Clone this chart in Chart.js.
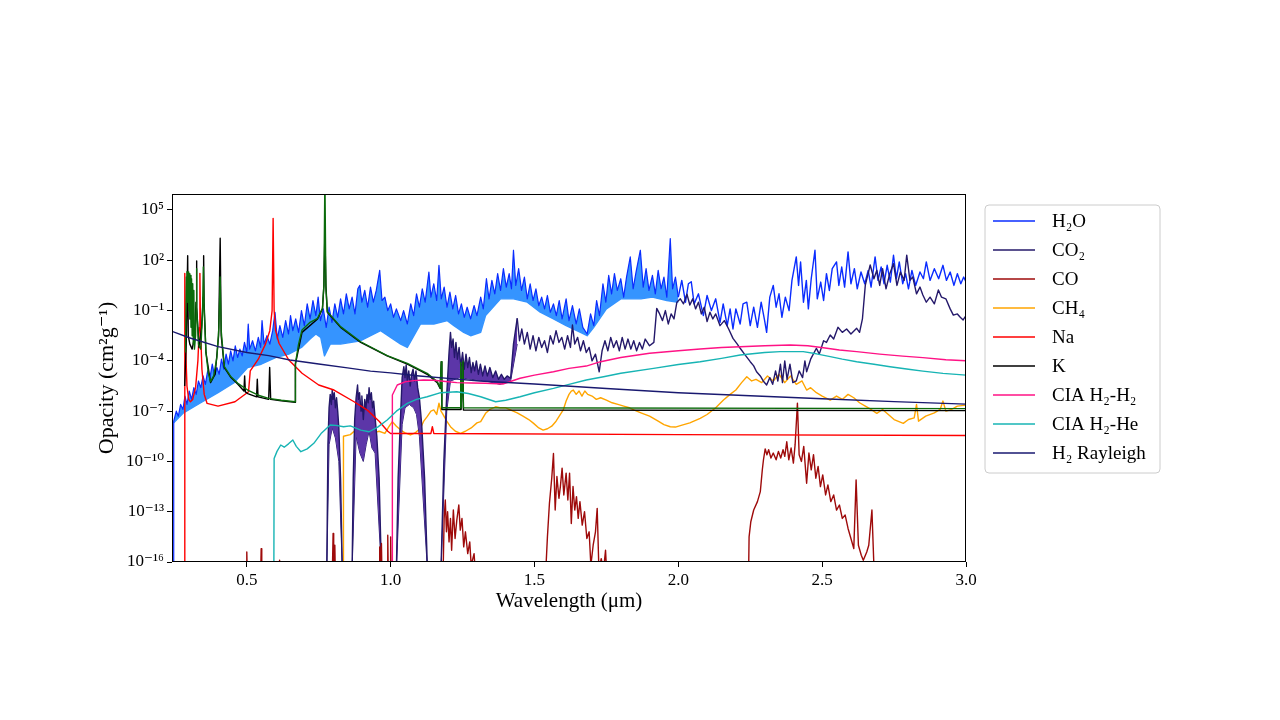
<!DOCTYPE html>
<html>
<head>
<meta charset="utf-8">
<title>Opacity vs wavelength</title>
<script src="https://cdn.jsdelivr.net/npm/chart.js@4.4.1/dist/chart.umd.min.js"></script>
<style>
  html, body { margin: 0; padding: 0; background: #fff; }
  canvas { display: block; }
</style>
</head>
<body>
<canvas id="mycanvas" width="1280" height="720"></canvas>
<script>
// every point is [wavelength in micron, log10 of opacity in cm2/g]
// (values below 1e-16 are just off the bottom of the axis)

const xTicks = [0.5, 1.0, 1.5, 2.0, 2.5, 3.0];
const yTickExps = [5, 2, -1, -4, -7, -10, -13, -16];

// H2O - dense part (blue spikes) and the lower edge of the band
const h2oDense = [[0.245,-16],[0.246,-7.6],[0.255,-7.0],[0.262,-7.3],[0.270,-6.6],[0.278,-6.9],[0.285,-6.1],[0.292,-6.6],
  [0.300,-5.8],[0.308,-6.3],[0.316,-5.6],[0.324,-6.0],[0.332,-5.2],[0.340,-5.6],[0.348,-4.9],[0.356,-5.4],[0.364,-4.6],
  [0.372,-5.0],[0.380,-4.2],[0.388,-4.9],[0.396,-4.4],[0.404,-4.8],[0.412,-3.9],[0.420,-4.5],[0.428,-3.6],[0.436,-4.2],
  [0.444,-3.4],[0.452,-4.0],[0.460,-3.1],[0.468,-3.8],[0.476,-3.3],[0.484,-3.7],[0.492,-2.9],[0.500,-3.5],[0.505,-1.8],
  [0.510,-3.3],[0.520,-2.8],[0.530,-3.4],[0.540,-2.6],[0.548,-3.2],[0.553,-1.6],[0.560,-3.0],[0.570,-2.5],[0.580,-3.0],
  [0.590,-2.2],[0.598,-1.1],[0.606,-2.7],[0.615,-1.9],[0.625,-2.6],[0.635,-1.6],[0.645,-2.4],[0.652,-1.3],[0.660,-2.2],
  [0.670,-1.5],[0.680,-2.3],[0.690,-1.0],[0.700,-1.9],[0.710,-0.6],[0.720,-1.5],[0.730,-0.4],[0.740,-1.3],[0.748,-0.2],
  [0.756,-1.6],[0.766,-0.9],[0.776,-2.0],[0.786,-0.8],[0.796,-1.7],[0.806,-0.6],[0.816,-1.4],[0.826,-0.3],[0.836,-1.2],
  [0.846,0.0],[0.856,-0.9],[0.866,-0.2],[0.876,-1.2],[0.886,0.3],[0.893,0.5],[0.900,-0.5],[0.910,0.2],[0.920,-0.8],
  [0.930,0.4],[0.940,-0.5],[0.950,0.2],[0.962,1.4],[0.970,-0.4],[0.980,-0.2],[0.990,-1.0],[1.000,-0.6],[1.010,-1.4],
  [1.020,-0.9],[1.035,-1.6],[1.045,-1.0],[1.058,-1.8],[1.070,-0.6],[1.080,-1.3],[1.090,0.0],[1.100,-0.8],[1.110,0.3],
  [1.120,-0.5],[1.133,1.3],[1.140,-0.2],[1.150,0.6],[1.160,-0.4],[1.168,1.7],[1.176,-0.3],[1.186,0.4],[1.196,-0.8],
  [1.206,0.1],[1.216,-0.9],[1.226,-0.1],[1.236,-1.2],[1.246,-0.6],[1.256,-1.4],[1.266,-0.8],[1.278,-1.5],[1.290,-0.7],
  [1.300,-1.3],[1.313,-0.2],[1.322,-0.9],[1.333,0.9],[1.342,-0.3],[1.352,0.8],[1.362,0.0],[1.372,1.2],[1.382,0.2],
  [1.392,1.5],[1.402,0.4],[1.412,1.2],[1.420,0.3],[1.427,2.6],[1.435,0.5],[1.445,1.5],[1.455,0.2],[1.465,1.0],
  [1.475,-0.3],[1.485,0.6],[1.495,-0.4],[1.505,0.3],[1.515,-0.7],[1.525,-0.2],[1.535,-0.9],[1.545,-0.1],[1.555,-1.1],
  [1.566,-0.6],[1.576,-1.3],[1.586,-0.4],[1.596,-1.5],[1.610,-0.3],[1.620,-1.6],[1.632,-0.7],[1.645,-1.8],[1.656,-0.9],
  [1.668,-2.0],[1.683,-2.4],[1.695,-1.2],[1.706,-1.9],[1.716,-0.4],[1.726,-1.3],[1.738,0.6],[1.748,-0.5],[1.758,1.1],
  [1.768,0.0],[1.778,1.2],[1.788,0.2],[1.800,0.9],[1.810,-0.2],[1.820,1.0],[1.833,2.2],[1.843,0.3],[1.853,1.3],
  [1.868,2.6],[1.878,0.4],[1.888,1.5],[1.898,0.2],[1.910,1.1],[1.920,0.0],[1.930,1.4],[1.940,0.3],[1.950,1.0],
  [1.960,-0.2],[1.972,3.3],[1.980,0.3],[1.990,1.0],[2.000,-0.2]];
const h2oLow = [[0.246,-7.7],[0.280,-7.1],[0.340,-6.5],[0.400,-5.9],[0.456,-5.3],[0.503,-4.4],[0.550,-4.2],[0.600,-3.8],
  [0.646,-3.6],[0.690,-3.2],[0.720,-2.7],[0.740,-2.4],[0.757,-2.6],[0.770,-3.7],[0.790,-3.0],[0.826,-3.0],[0.896,-2.8],
  [0.965,-2.2],[1.035,-3.0],[1.058,-3.2],[1.104,-1.8],[1.150,-1.8],[1.197,-1.6],[1.220,-1.9],[1.254,-2.3],[1.278,-2.5],
  [1.313,-2.3],[1.330,-1.3],[1.382,-0.3],[1.427,-0.3],[1.475,-0.5],[1.520,-1.1],[1.566,-1.5],[1.610,-1.9],[1.660,-2.3],
  [1.683,-2.5],[1.706,-2.0],[1.750,-0.9],[1.800,-0.3],[1.870,-0.3],[1.910,-0.2],[1.960,-0.4],[2.000,-0.5]];
const h2oTail = [[2.000,-0.2],[2.012,0.8],[2.025,-0.5],[2.035,0.6],[2.045,0.72],[2.055,-0.6],[2.070,0.0],[2.087,-1.3],
  [2.100,-0.1],[2.115,-1.0],[2.130,-0.3],[2.145,-1.7],[2.156,-0.6],[2.170,-1.9],[2.180,-0.9],[2.190,-2.1],[2.200,-0.9],
  [2.215,-1.8],[2.225,-0.6],[2.238,-0.5],[2.250,-1.9],[2.262,-0.8],[2.275,-2.0],[2.288,-0.5],[2.300,-1.6],[2.307,-2.3],
  [2.318,-0.2],[2.330,0.5],[2.340,-0.8],[2.350,0.0],[2.360,-1.4],[2.372,-0.2],[2.385,-1.0],[2.395,0.8],[2.410,2.2],
  [2.418,0.5],[2.425,1.9],[2.435,-0.5],[2.445,0.8],[2.452,-0.9],[2.462,0.9],[2.475,2.6],[2.483,-0.3],[2.495,0.7],
  [2.505,-0.4],[2.515,1.2],[2.525,0.2],[2.535,1.5],[2.550,1.9],[2.558,0.5],[2.568,1.6],[2.578,0.4],[2.590,2.5],
  [2.600,0.6],[2.612,1.5],[2.622,0.3],[2.635,1.3],[2.648,0.6],[2.660,1.4],[2.670,0.4],[2.684,2.2],[2.694,0.8],
  [2.705,1.6],[2.715,0.6],[2.726,1.7],[2.737,0.7],[2.748,2.3],[2.758,0.9],[2.768,1.9],[2.780,0.6],[2.790,1.2],
  [2.800,0.3],[2.812,1.4],[2.825,0.5],[2.840,1.3],[2.852,0.9],[2.862,1.9],[2.875,0.8],[2.890,1.5],[2.905,0.9],
  [2.920,1.7],[2.932,0.8],[2.945,1.3],[2.958,0.5],[2.970,1.2],[2.982,0.6],[2.992,1.0],[3.000,0.7]];

// CO2 - the near-IR bands (filled) and the long-wavelength part
const co2Bands = [[0.778,-16.5],[0.782,-9.0],[0.786,-6.8],[0.790,-6.0],[0.794,-6.6],[0.797,-5.74],[0.800,-6.3],[0.804,-5.9],
  [0.808,-6.8],[0.812,-6.2],[0.816,-7.0],[0.820,-8.0],[0.826,-11],[0.832,-16.5],[0.866,-16.5],[0.870,-11],[0.875,-7.5],
  [0.880,-6.2],[0.885,-5.44],[0.888,-6.3],[0.892,-5.9],[0.897,-7.0],[0.900,-6.1],[0.905,-7.5],[0.910,-6.3],[0.914,-6.9],
  [0.918,-6.0],[0.922,-6.5],[0.925,-5.6],[0.929,-6.3],[0.933,-5.9],[0.937,-6.8],[0.941,-6.4],[0.946,-7.4],[0.952,-8.5],
  [0.960,-11],[0.968,-16.5],[1.020,-16.5],[1.026,-11],[1.034,-7.5],[1.040,-5.0],[1.046,-4.35],[1.050,-5.0],[1.054,-4.25],
  [1.058,-5.2],[1.063,-4.6],[1.068,-5.5],[1.073,-4.8],[1.078,-4.5],[1.083,-5.2],[1.088,-4.6],[1.094,-5.6],[1.100,-6.2],
  [1.108,-7.8],[1.118,-11],[1.128,-16.5],[1.175,-16.5],[1.185,-10],[1.195,-6.0],[1.203,-3.5],[1.208,-2.3],[1.212,-3.2],
  [1.217,-2.7],[1.222,-3.8],[1.227,-2.9],[1.232,-3.9],[1.238,-3.2],[1.244,-4.3],[1.250,-3.5],[1.256,-4.5],[1.262,-3.6],
  [1.268,-4.4],[1.274,-3.8],[1.280,-4.7],[1.286,-4.1],[1.292,-4.6],[1.298,-4.0],[1.305,-4.8],[1.312,-4.2],[1.320,-4.9],
  [1.328,-4.3],[1.336,-4.9],[1.345,-4.4],[1.355,-5.0],[1.365,-4.6],[1.375,-5.1],[1.385,-4.8],[1.395,-5.1],[1.405,-4.9],
  [1.417,-5.04],[1.427,-3.0],[1.440,-1.46]];
const co2Low = [[0.778,-16.5],[0.786,-9.0],[0.797,-8.0],[0.808,-8.6],[0.820,-10],[0.832,-16.5],[0.866,-16.5],[0.880,-8.5],
  [0.893,-9.5],[0.905,-10.0],[0.915,-9.0],[0.925,-8.2],[0.935,-9.2],[0.946,-9.5],[0.968,-16.5],[1.020,-16.5],[1.040,-7.8],
  [1.050,-6.8],[1.065,-6.6],[1.080,-6.8],[1.090,-7.2],[1.100,-8.5],[1.128,-16.5],[1.175,-16.5],[1.195,-7.0],[1.208,-5.2],
  [1.240,-5.0],[1.280,-5.1],[1.330,-5.2],[1.380,-5.4],[1.417,-5.2],[1.440,-3.0]];
const co2Tail = [[1.440,-1.46],[1.448,-2.8],[1.456,-2.1],[1.465,-3.0],[1.475,-2.3],[1.485,-3.3],[1.495,-2.5],[1.505,-3.4],
  [1.515,-2.6],[1.525,-3.2],[1.535,-2.8],[1.545,-3.5],[1.555,-2.5],[1.565,-3.0],[1.575,-2.2],[1.585,-2.9],[1.595,-2.6],
  [1.605,-3.3],[1.615,-2.5],[1.625,-3.2],[1.632,-1.86],[1.640,-3.0],[1.650,-2.6],[1.660,-3.4],[1.670,-2.8],[1.680,-3.5],
  [1.690,-3.2],[1.700,-4.0],[1.712,-3.6],[1.725,-4.65],[1.735,-3.4],[1.745,-2.8],[1.755,-3.4],[1.765,-2.6],[1.775,-3.2],
  [1.785,-2.8],[1.795,-3.4],[1.805,-2.6],[1.815,-3.3],[1.825,-2.7],[1.835,-3.3],[1.845,-2.8],[1.855,-3.4],[1.865,-2.9],
  [1.875,-3.3],[1.885,-2.7],[1.900,-3.1],[1.915,-2.9],[1.925,-0.87],[1.935,-1.2],[1.945,-1.6],[1.955,-1.0],[1.965,-1.8],
  [1.975,-1.2],[1.985,-1.5],[1.995,-0.5],[2.007,-0.3],[2.018,-0.6],[2.030,-0.02],[2.040,-0.67],[2.050,-0.3],[2.060,-0.9],
  [2.070,-0.5],[2.080,-1.2],[2.090,-0.8],[2.100,-1.66],[2.110,-1.1],[2.120,-1.5],[2.130,-1.2],[2.145,-1.9],[2.160,-1.6],
  [2.175,-2.1],[2.190,-2.66],[2.205,-3.0],[2.215,-3.25],[2.230,-3.6],[2.250,-4.05],[2.262,-4.3],[2.272,-4.65],[2.285,-4.9],
  [2.295,-5.2],[2.307,-5.44],[2.318,-5.0],[2.328,-5.4],[2.338,-4.6],[2.346,-5.2],[2.355,-4.2],[2.362,-5.3],[2.370,-4.0],
  [2.378,-5.1],[2.388,-4.2],[2.398,-5.3],[2.410,-5.2],[2.420,-4.6],[2.432,-5.0],[2.440,-4.0],[2.446,-4.65],[2.460,-3.9],
  [2.480,-3.25],[2.490,-3.6],[2.505,-2.8],[2.515,-2.9],[2.528,-2.46],[2.540,-2.7],[2.555,-2.0],[2.570,-2.3],[2.585,-2.1],
  [2.600,-2.4],[2.620,-2.06],[2.630,-2.3],[2.640,-1.5],[2.650,0.52],[2.667,1.72],[2.680,0.9],[2.690,1.4],[2.700,0.5],
  [2.710,1.5],[2.722,0.3],[2.735,1.2],[2.748,1.8],[2.760,0.5],[2.772,1.3],[2.785,0.8],[2.794,2.31],[2.805,0.8],
  [2.815,1.0],[2.828,0.0],[2.840,0.4],[2.850,-0.07],[2.862,-0.5],[2.875,-0.2],[2.890,-0.6],[2.904,0.23],[2.915,-0.2],
  [2.930,-0.3],[2.945,-0.9],[2.956,-1.27],[2.970,-1.2],[2.980,-1.4],[2.990,-1.56],[3.000,-1.3]];

// CO
const coLines = [[0.498,-17],[0.500,-15.4],[0.502,-17],[0.548,-17],[0.550,-15.2],[0.552,-17],[0.612,-17],[0.614,-15.9],
  [0.616,-17],[0.797,-17],[0.800,-14.3],[0.802,-17],[0.806,-15.0],[0.808,-17],[0.960,-17],[0.962,-15.1],[0.964,-17],
  [0.968,-14.9],[0.970,-17],[0.988,-17],[0.990,-14.4],[0.992,-17],[0.998,-17],[1.000,-14.5],[1.002,-17],
  [1.182,-17],[1.186,-13.4],[1.190,-12.3],[1.194,-14.2],[1.198,-13.0],[1.203,-14.8],[1.208,-13.4],[1.212,-15.3],
  [1.218,-12.9],[1.224,-14.6],[1.230,-13.5],[1.237,-12.6],[1.242,-14.1],[1.248,-13.4],[1.254,-15.1],[1.260,-14.2],
  [1.268,-15.5],[1.275,-14.8],[1.280,-16.2],[1.290,-15.5],[1.296,-17],
  [1.538,-17],[1.545,-14.5],[1.552,-12.5],[1.560,-11.0],[1.566,-9.53],[1.572,-12.9],[1.578,-10.9],[1.585,-12.2],
  [1.590,-11.5],[1.596,-10.4],[1.602,-12.0],[1.610,-10.7],[1.616,-12.3],[1.622,-10.7],[1.628,-13.7],[1.634,-11.5],
  [1.640,-12.9],[1.646,-12.1],[1.652,-13.4],[1.658,-12.4],[1.666,-13.8],[1.674,-13.0],[1.682,-14.6],[1.690,-14.2],
  [1.696,-16.2],[1.704,-15.0],[1.712,-14.2],[1.718,-12.8],[1.724,-16.5],[1.732,-15.8],[1.740,-16.5],[1.747,-15.3],[1.752,-17],
  [2.244,-17],[2.246,-14.5],[2.252,-13.6],[2.262,-12.9],[2.275,-12.4],[2.285,-11.8],[2.292,-10.5],[2.296,-9.9],
  [2.302,-9.25],[2.308,-9.6],[2.314,-9.3],[2.322,-9.8],[2.330,-9.5],[2.340,-9.9],[2.348,-9.4],[2.356,-9.8],[2.364,-9.3],
  [2.370,-9.7],[2.377,-8.83],[2.384,-9.9],[2.392,-9.2],[2.400,-10.1],[2.406,-9.0],[2.414,-6.53],[2.420,-9.6],[2.428,-10.0],
  [2.436,-9.1],[2.446,-11.3],[2.454,-9.5],[2.462,-10.5],[2.470,-9.6],[2.478,-11.0],[2.486,-10.3],[2.494,-11.5],
  [2.502,-10.8],[2.512,-12.0],[2.520,-11.4],[2.530,-12.4],[2.540,-12.0],[2.550,-12.9],[2.560,-12.6],[2.570,-13.4],
  [2.580,-13.2],[2.590,-14.0],[2.600,-14.6],[2.610,-15.2],[2.618,-11.1],[2.626,-15.0],[2.636,-15.6],[2.643,-15.9],
  [2.655,-15.4],[2.662,-15.0],[2.673,-12.9],[2.680,-16.3],[2.690,-17]];

// CH4
const ch4Line = [[0.835,-17],[0.836,-8.5],[0.860,-8.4],[0.880,-8.1],[0.900,-8.3],
  [0.920,-8.0],[0.940,-8.3],[0.960,-8.2],[0.980,-8.33],[0.995,-7.9],[1.006,-7.63],[1.020,-7.9],[1.035,-8.13],[1.050,-8.3],
  [1.069,-8.42],[1.085,-8.3],[1.104,-8.0],[1.115,-7.6],[1.127,-7.33],[1.140,-7.0],[1.150,-6.93],[1.160,-7.2],[1.168,-6.53],
  [1.175,-7.0],[1.180,-7.13],[1.195,-7.6],[1.208,-7.93],[1.225,-8.2],[1.243,-8.33],[1.260,-8.2],[1.280,-8.0],[1.300,-7.7],
  [1.313,-7.63],[1.330,-7.13],[1.345,-6.9],[1.365,-6.74],[1.380,-6.8],[1.400,-6.8],[1.420,-6.95],[1.440,-7.1],[1.460,-7.3],
  [1.480,-7.5],[1.497,-7.73],[1.515,-8.0],[1.530,-8.13],[1.545,-8.05],[1.560,-7.9],[1.575,-7.6],[1.590,-7.2],[1.600,-6.93],
  [1.610,-6.4],[1.620,-6.0],[1.628,-5.8],[1.635,-5.74],[1.645,-6.0],[1.655,-5.8],[1.665,-6.1],[1.675,-5.8],[1.685,-6.0],
  [1.700,-6.1],[1.715,-6.3],[1.730,-6.2],[1.750,-6.34],[1.770,-6.5],[1.790,-6.6],[1.810,-6.7],[1.830,-6.8],[1.845,-6.93],
  [1.870,-7.1],[1.900,-7.3],[1.930,-7.6],[1.950,-7.8],[1.972,-7.93],[1.990,-7.95],[2.010,-7.85],[2.040,-7.7],[2.076,-7.43],
  [2.100,-7.2],[2.130,-6.8],[2.157,-6.34],[2.180,-6.0],[2.200,-5.74],[2.220,-5.3],[2.238,-4.95],[2.255,-5.2],[2.270,-5.1],
  [2.290,-5.3],[2.310,-4.9],[2.330,-5.2],[2.350,-4.8],[2.370,-5.3],[2.390,-4.9],[2.410,-5.4],[2.430,-5.2],[2.446,-5.74],
  [2.460,-5.6],[2.480,-5.9],[2.500,-6.1],[2.528,-6.34],[2.550,-6.1],[2.570,-6.3],[2.590,-6.0],[2.610,-6.2],[2.630,-6.5],
  [2.650,-6.7],[2.670,-6.9],[2.690,-7.13],[2.710,-6.9],[2.730,-7.2],[2.750,-7.5],[2.782,-7.73],[2.800,-7.5],[2.820,-7.4],
  [2.828,-6.6],[2.835,-7.6],[2.860,-7.3],[2.890,-7.1],[2.910,-6.9],[2.920,-6.4],[2.930,-7.0],[2.950,-6.9],[2.970,-6.7],
  [3.000,-6.64]];

// Na
const naLine = [[0.284,-17],[0.2845,1.22],[0.287,-3.0],[0.292,-5.5],[0.298,-6.3],[0.304,-6.44],[0.312,-6.3],[0.322,-5.6],
  [0.330,-4.0],[0.335,-2.0],[0.337,1.22],[0.339,-2.0],[0.344,-4.5],[0.352,-6.0],[0.362,-6.54],[0.400,-6.7],[0.459,-6.44],
  [0.506,-5.84],[0.512,-4.6],[0.540,-3.9],[0.565,-3.0],[0.580,-2.2],[0.588,-1.0],[0.5915,4.5],[0.595,-1.0],[0.600,-2.2],
  [0.612,-2.95],[0.646,-3.95],[0.692,-4.74],[0.750,-5.44],[0.803,-5.74],[0.873,-6.44],[0.919,-6.94],[0.960,-7.6],
  [0.990,-8.2],[1.000,-8.33],[1.140,-8.33],[1.145,-7.93],[1.150,-8.33],[2.000,-8.4],[3.000,-8.45]];

// K (black) and the green line drawn over it, which has no legend entry
const kLine = [[0.284,-5.5],[0.2895,-3.0],[0.2945,2.27],[0.2965,-2.5],[0.302,-3.0],[0.310,-3.3],[0.318,-2.6],[0.3235,-0.5],
  [0.325,1.96],[0.3265,-0.8],[0.334,-3.2],[0.343,-2.0],[0.3485,-0.2],[0.350,2.27],[0.3515,-0.5],[0.358,-3.5],[0.374,-5.3],
  [0.390,-4.8],[0.402,-2.5],[0.4075,3.31],[0.411,-2.5],[0.422,-4.4],[0.445,-5.0],[0.469,-5.4],[0.490,-5.8],[0.4925,-4.9],
  [0.495,-5.85],[0.503,-5.95],[0.534,-6.15],[0.5365,-5.1],[0.539,-6.15],[0.576,-6.3],[0.5795,-4.4],[0.583,-6.3],
  [0.620,-6.38],[0.668,-6.48],[0.669,-4.2],[0.692,-2.3],[0.746,-1.5],[0.763,-0.9],[0.768,0.5],[0.7715,3.65],[0.775,0.5],
  [0.780,-1.1],[0.826,-2.0],[0.896,-2.9],[0.988,-3.7],[1.058,-4.2],[1.104,-4.6],[1.127,-4.8],[1.162,-5.3],[1.172,-5.65],
  [1.176,-4.05],[1.178,-6.9],[1.242,-6.9],[1.2435,-4.2],[1.245,-6.9],[1.2515,-4.1],[1.253,-6.93],[3.000,-6.97]];
const kGreen = [[0.287,-3.5],[0.290,1.0],[0.292,1.32],[0.294,-0.5],[0.296,1.3],[0.298,-1.0],[0.300,1.2],[0.302,-1.5],
  [0.304,1.1],[0.306,-2.0],[0.308,0.9],[0.310,-2.5],[0.312,0.6],[0.314,-3.0],[0.316,0.2],[0.318,-3.3],[0.322,-2.5],
  [0.324,-0.5],[0.325,1.5],[0.3265,-0.8],[0.332,-3.0],[0.340,-3.3],[0.346,-1.2],[0.349,1.6],[0.352,-1.0],[0.358,-3.5],
  [0.366,-4.7],[0.374,-5.24],[0.385,-4.9],[0.396,-3.8],[0.403,-2.0],[0.4075,1.0],[0.411,-2.2],[0.422,-4.35],[0.445,-4.95],
  [0.469,-5.34],[0.503,-5.74],[0.540,-6.05],[0.576,-6.24],[0.620,-6.35],[0.668,-6.44],[0.669,-4.15],[0.680,-3.0],
  [0.692,-2.16],[0.720,-1.7],[0.746,-1.46],[0.763,-0.87],[0.768,0.5],[0.7715,7.0],[0.775,0.3],[0.780,-1.07],[0.826,-1.96],
  [0.896,-2.86],[0.988,-3.69],[1.058,-4.15],[1.104,-4.55],[1.127,-4.74],[1.162,-5.24],[1.172,-5.6],[1.176,-4.05],
  [1.178,-6.8],[1.242,-6.8],[1.2435,-4.1],[1.245,-6.8],[1.2515,-4.0],[1.253,-6.8],[3.000,-6.85]];

// collision induced absorption
const ciaH2H2 = [[1.0055,-17],[1.006,-6.04],[1.023,-5.44],[1.050,-5.25],[1.080,-5.18],[1.115,-5.14],[1.150,-5.16],
  [1.200,-5.25],[1.230,-5.3],[1.280,-5.32],[1.330,-5.34],[1.390,-5.38],[1.450,-5.04],[1.500,-4.85],[1.566,-4.65],
  [1.620,-4.45],[1.680,-4.31],[1.730,-4.05],[1.800,-3.8],[1.900,-3.55],[2.000,-3.4],[2.076,-3.29],[2.150,-3.2],
  [2.215,-3.16],[2.300,-3.1],[2.389,-3.05],[2.450,-3.1],[2.504,-3.22],[2.560,-3.35],[2.620,-3.45],[2.700,-3.6],
  [2.780,-3.72],[2.850,-3.81],[2.930,-3.93],[3.000,-3.99]];
const ciaH2He = [[0.594,-17],[0.595,-9.82],[0.605,-9.4],[0.618,-9.02],[0.630,-9.15],[0.645,-8.95],[0.660,-8.72],
  [0.672,-9.1],[0.688,-9.42],[0.710,-9.25],[0.733,-8.92],[0.760,-8.3],[0.790,-7.83],[0.810,-7.85],[0.836,-7.93],
  [0.860,-7.88],[0.896,-8.13],[0.925,-8.23],[0.955,-7.95],[0.988,-7.53],[1.020,-7.0],[1.058,-6.54],[1.090,-6.3],
  [1.127,-6.14],[1.174,-5.9],[1.230,-5.84],[1.270,-5.95],[1.313,-6.14],[1.365,-6.44],[1.400,-6.35],[1.450,-6.14],
  [1.500,-5.9],[1.566,-5.64],[1.620,-5.4],[1.680,-5.14],[1.740,-4.95],[1.800,-4.74],[1.914,-4.45],[2.000,-4.22],
  [2.076,-4.05],[2.150,-3.85],[2.215,-3.65],[2.300,-3.5],[2.354,-3.45],[2.434,-3.45],[2.480,-3.58],[2.528,-3.75],
  [2.570,-3.9],[2.620,-4.05],[2.680,-4.2],[2.736,-4.35],[2.800,-4.5],[2.850,-4.61],[2.920,-4.75],[3.000,-4.85]];

// H2 Rayleigh scattering
const rayleigh = [[0.240,-2.24],[0.300,-2.62],[0.400,-3.15],[0.500,-3.5],[0.576,-3.69],[0.650,-3.95],[0.750,-4.19],
  [0.850,-4.42],[0.930,-4.61],[1.000,-4.72],[1.100,-4.9],[1.210,-5.06],[1.310,-5.2],[1.500,-5.38],[1.750,-5.65],
  [2.000,-5.9],[2.250,-6.08],[2.500,-6.26],[2.750,-6.43],[3.000,-6.58]];

const SERIF = '"Liberation Serif", "DejaVu Serif", serif';
const SUP = {'-': '\u207B', '0': '\u2070', '1': '\u00B9', '2': '\u00B2', '3': '\u00B3', '4': '\u2074',
  '5': '\u2075', '6': '\u2076', '7': '\u2077', '8': '\u2078', '9': '\u2079'};

function toXY(list) {
  return list.map(p => ({x: p[0], y: Math.pow(10, p[1])}));
}

function line(label, list, color, order, extra) {
  return Object.assign({
    label: label,
    data: toXY(list),
    borderColor: color,
    backgroundColor: color,
    borderWidth: 1.4,
    pointRadius: 0,
    fill: false,
    tension: 0,
    borderJoinStyle: 'round',
    order: order,
    inLegend: false
  }, extra || {});
}

var datasets = [
  line('H\u2082O', h2oDense, '#0a2cff', 13, {fill: 1, backgroundColor: '#3594ff', borderWidth: 1.2, inLegend: true}), // 0
  line('h2o low', h2oLow, '#3594ff', 14),                                                               // 1
  line('h2o tail', h2oTail, '#0a2cff', 12),                                                             // 2
  line('CO\u2082', co2Bands, '#24186a', 10, {fill: 4, backgroundColor: '#5c36a8', inLegend: true}),     // 3
  line('co2 low', co2Low, '#24186a', 11, {borderWidth: 1}),                                             // 4
  line('co2 tail', co2Tail, '#24186a', 9),                                                              // 5
  line('CO', coLines, '#9e0a0a', 8, {inLegend: true}),                                                  // 6
  line('CH\u2084', ch4Line, '#ffa500', 11.5, {inLegend: true}),                                         // 7
  line('Na', naLine, '#ff0000', 7, {inLegend: true}),                                                   // 8
  line('K', kLine, '#000000', 6, {inLegend: true}),                                                     // 9
  line('k green', kGreen, '#0b6b0b', 5),                                                                // 10
  line('CIA H\u2082-H\u2082', ciaH2H2, '#ff1285', 4, {inLegend: true}),                                 // 11
  line('CIA H\u2082-He', ciaH2He, '#17b4b4', 3, {inLegend: true}),                                      // 12
  line('H\u2082 Rayleigh', rayleigh, '#191970', 2, {inLegend: true})                                    // 13
];

// box round the axes + legend with a border, drawn by hand
const frameAndLegend = {
  id: 'frameAndLegend',
  afterDatasetsDraw(chart) {
    const ctx = chart.ctx, a = chart.chartArea;
    ctx.save();
    ctx.strokeStyle = '#000';
    ctx.lineWidth = 1;
    ctx.strokeRect(a.left + 0.5, a.top + 0.5, a.right - a.left - 1, a.bottom - a.top - 1);
    ctx.restore();
  },
  afterDraw(chart) {
    const ctx = chart.ctx;
    const items = chart.data.datasets.filter(d => d.inLegend);
    const bx = 985, by = 205, bw = 175, bh = 268, r = 4;
    ctx.save();
    ctx.beginPath();
    ctx.moveTo(bx + r, by);
    ctx.arcTo(bx + bw, by, bx + bw, by + bh, r);
    ctx.arcTo(bx + bw, by + bh, bx, by + bh, r);
    ctx.arcTo(bx, by + bh, bx, by, r);
    ctx.arcTo(bx, by, bx + bw, by, r);
    ctx.closePath();
    ctx.fillStyle = 'rgba(255,255,255,0.8)';
    ctx.fill();
    ctx.strokeStyle = '#cccccc';
    ctx.lineWidth = 1;
    ctx.stroke();
    ctx.font = '19px ' + SERIF;
    ctx.textBaseline = 'middle';
    ctx.textAlign = 'left';
    items.forEach((d, i) => {
      const y = 221 + i * 29;
      ctx.strokeStyle = d.borderColor;
      ctx.lineWidth = 1.6;
      ctx.beginPath();
      ctx.moveTo(993, y);
      ctx.lineTo(1035, y);
      ctx.stroke();
      ctx.fillStyle = '#000';
      ctx.fillText(d.label, 1052, y + 1);
    });
    ctx.restore();
  }
};

var ctx = document.getElementById('mycanvas').getContext('2d');

var opacityChart = new Chart(ctx, {
  type: 'line',
  data: { datasets: datasets },
  plugins: [frameAndLegend],
  options: {
    responsive: false,
    animation: false,
    devicePixelRatio: 1,
    layout: { padding: { left: 0, top: 194, right: 314, bottom: 98 } },
    plugins: {
      legend: { display: false },
      tooltip: { enabled: false },
      filler: { propagate: false }
    },
    scales: {
      x: {
        type: 'linear',
        min: 0.24,
        max: 3.0,
        afterBuildTicks: s => { s.ticks = xTicks.map(v => ({value: v})); },
        afterFit: s => { s.height = 60; },
        ticks: {
          autoSkip: false, maxRotation: 0, padding: 3, color: '#000',
          font: { family: SERIF, size: 17 },
          callback: v => Number(v).toFixed(1)
        },
        grid: { drawOnChartArea: false, color: '#000', tickLength: 5 },
        border: { display: false },
        title: {
          display: true, text: 'Wavelength (\u03BCm)', color: '#000',
          font: { family: SERIF, size: 21 }, padding: { top: 0, bottom: 8 }
        }
      },
      y: {
        type: 'logarithmic',
        min: 1e-16,
        max: 9e5,
        afterBuildTicks: s => { s.ticks = yTickExps.map(e => ({value: Math.pow(10, e)})); },
        afterFit: s => { s.width = 172; },
        ticks: {
          autoSkip: false, padding: 3, color: '#000',
          font: { family: SERIF, size: 17 },
          callback: v => '10' + String(Math.round(Math.log10(v))).split('').map(c => SUP[c]).join('')
        },
        grid: { drawOnChartArea: false, color: '#000', tickLength: 5 },
        border: { display: false },
        title: {
          display: true, text: 'Opacity (cm\u00B2g\u207B\u00B9)', color: '#000',
          font: { family: SERIF, size: 22 }, padding: { top: 94, bottom: 0 }
        }
      }
    }
  }
});
</script>
</body>
</html>
